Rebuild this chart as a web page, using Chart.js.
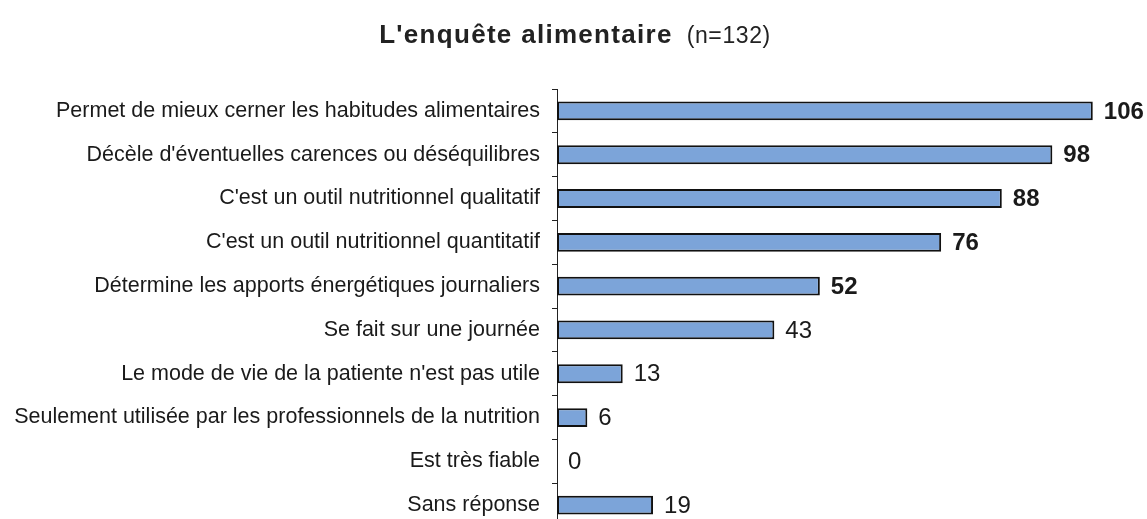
<!DOCTYPE html>
<html>
<head>
<meta charset="utf-8">
<script src="https://cdn.jsdelivr.net/npm/chart.js@4"></script>
<style>
  html, body { margin: 0; padding: 0; background: #fff; overflow: hidden; }
  #wrap { width: 1147px; height: 552px; }
</style>
</head>
<body>
<div id="wrap"><canvas id="c" width="1147" height="552"></canvas></div>
<script>
const categories = [
  "Permet de mieux cerner les habitudes alimentaires",
  "Décèle d'éventuelles carences ou déséquilibres",
  "C'est un outil nutritionnel qualitatif",
  "C'est un outil nutritionnel quantitatif",
  "Détermine les apports énergétiques journaliers",
  "Se fait sur une journée",
  "Le mode de vie de la patiente n'est pas utile",
  "Seulement utilisée par les professionnels de la nutrition",
  "Est très fiable",
  "Sans réponse"
];
const counts = [106, 98, 88, 76, 52, 43, 13, 6, 0, 19];
const boldValue = [true, true, true, true, true, false, false, false, false, false];
const titleMain = "L'enquête alimentaire";
const titleSub = "(n=132)";

const FONT = '"Liberation Sans", Arial, sans-serif';

// Title: bold heading followed by the sample size in regular weight
const titlePlugin = {
  id: 'titleMixed',
  afterDraw(chart) {
    const ctx = chart.ctx;
    ctx.save();
    ctx.textBaseline = 'alphabetic';
    ctx.textAlign = 'left';
    ctx.fillStyle = '#222';
    const gap = 14;
    const mainFont = 'bold 26px ' + FONT, mainSp = '1.3px';
    const subFont = '23px ' + FONT, subSp = '0.6px';
    ctx.font = mainFont; ctx.letterSpacing = mainSp;
    const w1 = ctx.measureText(titleMain).width;
    ctx.font = subFont; ctx.letterSpacing = subSp;
    const w2 = ctx.measureText(titleSub).width;
    const x0 = 575 - (w1 + gap + w2) / 2;
    const y = 43;
    ctx.font = mainFont; ctx.letterSpacing = mainSp;
    ctx.fillText(titleMain, x0, y);
    ctx.font = subFont; ctx.letterSpacing = subSp;
    ctx.fillText(titleSub, x0 + w1 + gap, y);
    ctx.restore();
  }
};

// Count printed to the right of each bar
const valueLabels = {
  id: 'valueLabels',
  afterDatasetsDraw(chart) {
    const ctx = chart.ctx;
    const meta = chart.getDatasetMeta(0);
    ctx.save();
    ctx.textBaseline = 'middle';
    ctx.textAlign = 'left';
    ctx.fillStyle = '#1a1a1a';
    meta.data.forEach((bar, i) => {
      ctx.font = (boldValue[i] ? 'bold ' : '') + '24px ' + FONT;
      ctx.fillText(String(counts[i]), bar.x + 11, bar.y + 1);
    });
    ctx.restore();
  }
};

new Chart(document.getElementById('c'), {
  type: 'bar',
  data: {
    labels: categories,
    datasets: [{
      data: counts,
      backgroundColor: '#7ca4d9',
      borderColor: '#111',
      borderWidth: 2,
      borderSkipped: false,
      barPercentage: 0.43,
      categoryPercentage: 1.0
    }]
  },
  options: {
    indexAxis: 'y',
    responsive: false,
    animation: false,
    layout: { padding: { top: 89, bottom: 2, left: 0, right: 34 } },
    plugins: { legend: { display: false }, tooltip: { enabled: false }, title: { display: false } },
    scales: {
      x: { display: false, min: 0, max: 110 },
      y: {
        afterFit(scale) { scale.width = 557; },
        border: { display: true, color: '#222', width: 1 },
        grid: {
          offset: true,
          drawOnChartArea: false,
          drawTicks: true,
          tickLength: 5,
          color: '#222'
        },
        ticks: {
          color: '#1a1a1a',
          padding: 12,
          font: { family: FONT, size: 21.5 }
        }
      }
    }
  },
  plugins: [titlePlugin, valueLabels]
});
</script>
</body>
</html>
